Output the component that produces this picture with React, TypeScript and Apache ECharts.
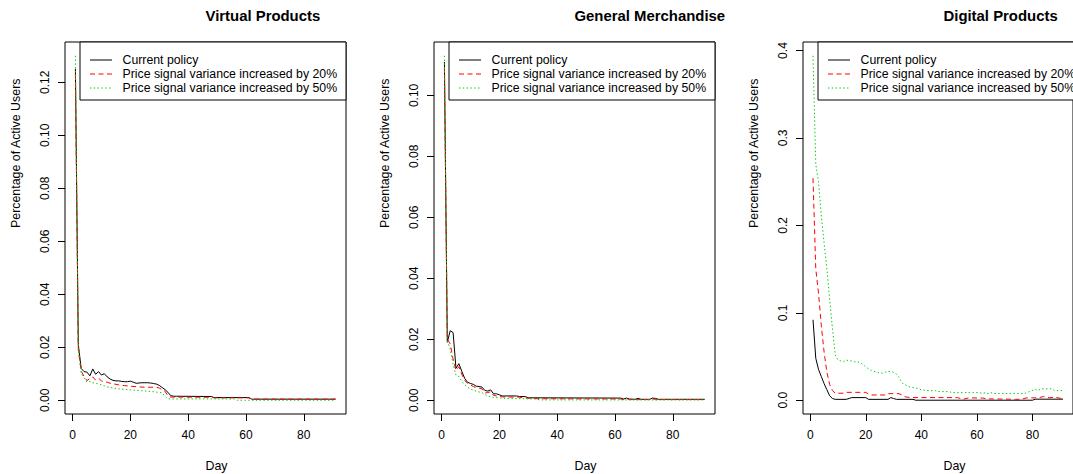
import React, { useEffect, useRef } from "react";
import * as echarts from "echarts";

// ---------- data ----------
const panelTitles = ["Virtual Products", "General Merchandise", "Digital Products"];
const legendLabels = [
  "Current policy",
  "Price signal variance increased by 20%",
  "Price signal variance increased by 50%",
];
const xTitle = "Day";
const yTitle = "Percentage of Active Users";
const xTicks = [0, 20, 40, 60, 80];
const yTicksVirtual = [0, 0.02, 0.04, 0.06, 0.08, 0.1, 0.12];
const yTicksGeneral = [0, 0.02, 0.04, 0.06, 0.08, 0.1];
const yTicksDigital = [0, 0.1, 0.2, 0.3, 0.4];

type Pt = [number, number];

const virtualCurrent: Pt[] = [
  [1, 0.125], [2, 0.021], [3, 0.012], [4, 0.0108], [5, 0.0106], [6, 0.0092], [7, 0.0118], [8, 0.0098],
  [9, 0.0108], [10, 0.0095], [11, 0.01], [12, 0.0088], [13, 0.008], [14, 0.0075], [15, 0.0073], [16, 0.0073],
  [17, 0.0071], [18, 0.007], [19, 0.007], [20, 0.0072], [21, 0.0068], [22, 0.0064], [23, 0.0065], [24, 0.0066],
  [25, 0.0066], [26, 0.0066], [27, 0.0065], [28, 0.0063], [29, 0.0061], [30, 0.0056], [31, 0.0048], [32, 0.004],
  [33, 0.003], [34, 0.0017], [35, 0.0015], [36, 0.0015], [48, 0.0014], [49, 0.001], [61, 0.001], [62, 0.0004],
  [91, 0.0004],
];
const virtual20: Pt[] = [
  [1, 0.123], [2, 0.019], [3, 0.011], [4, 0.0089], [5, 0.0074], [6, 0.0082], [7, 0.0088], [8, 0.0076],
  [9, 0.0083], [10, 0.0073], [11, 0.007], [12, 0.0068], [13, 0.0064], [14, 0.0062], [15, 0.006], [16, 0.0058],
  [17, 0.0056], [18, 0.0055], [20, 0.0053], [22, 0.0051], [25, 0.0049], [29, 0.0049], [30, 0.0046], [31, 0.004],
  [32, 0.0034], [33, 0.0016], [34, 0.0012], [48, 0.0011], [49, 0.0009], [61, 0.0009], [62, 0.0004], [91, 0.0004],
];
const virtual50: Pt[] = [
  [1, 0.13], [2, 0.02], [3, 0.01], [4, 0.0085], [5, 0.0068], [6, 0.0071], [7, 0.0066], [8, 0.0064],
  [9, 0.0061], [10, 0.0058], [11, 0.0054], [12, 0.005], [13, 0.0048], [14, 0.0046], [16, 0.0043], [18, 0.0041],
  [20, 0.0039], [24, 0.0036], [28, 0.0032], [31, 0.0028], [32, 0.0014], [33, 0.0005], [56, 0.0005], [57, 0],
  [91, 0],
];

const generalCurrent: Pt[] = [
  [1, 0.111], [2, 0.019], [3, 0.0228], [4, 0.0222], [5, 0.0105], [6, 0.012], [7, 0.0095], [8, 0.0072],
  [9, 0.0059], [10, 0.0055], [11, 0.0052], [12, 0.0046], [13, 0.0045], [14, 0.0043], [15, 0.0032], [16, 0.003],
  [17, 0.0034], [18, 0.0021], [19, 0.0021], [20, 0.0018], [21, 0.0014], [26, 0.0014], [27, 0.0012], [29, 0.0012],
  [30, 0.0008], [62, 0.0007], [63, 0.0004], [64, 0.0007], [65, 0.0004], [67, 0.0003], [68, 0.0006], [69, 0.0003],
  [72, 0.0003], [73, 0.0007], [74, 0.0006], [75, 0.0003], [91, 0.0003],
];
const general20: Pt[] = [
  [1, 0.109], [2, 0.02], [3, 0.0185], [4, 0.0135], [5, 0.0098], [6, 0.011], [7, 0.0085], [8, 0.0065],
  [9, 0.0056], [10, 0.005], [11, 0.0045], [12, 0.0041], [13, 0.004], [14, 0.0037], [15, 0.0024], [16, 0.0025],
  [17, 0.0028], [18, 0.0016], [19, 0.0014], [21, 0.0011], [27, 0.001], [28, 0.0008], [33, 0.0005], [62, 0.0004],
  [63, 0.0002], [64, 0.0005], [65, 0.0002], [72, 0.0002], [73, 0.0005], [74, 0.0002], [91, 0.0002],
];
const general50: Pt[] = [
  [1, 0.113], [2, 0.0195], [3, 0.0168], [4, 0.0118], [5, 0.0082], [6, 0.0078], [7, 0.0062], [8, 0.0051],
  [9, 0.0043], [10, 0.0037], [11, 0.0033], [12, 0.003], [13, 0.0027], [14, 0.0025], [15, 0.0019], [16, 0.0014],
  [17, 0.0011], [18, 0.0009], [20, 0.0008], [22, 0.0006], [33, 0.0004], [34, 0.0001], [91, 0.0001],
];

const digitalCurrent: Pt[] = [
  [1, 0.092], [2, 0.048], [3, 0.035], [4, 0.027], [5, 0.019], [6, 0.012], [7, 0.005], [8, 0.002],
  [9, 0.001], [13, 0.001], [14, 0.002], [15, 0.003], [20, 0.003], [21, 0.001], [28, 0.001], [29, 0.003],
  [30, 0.002], [31, 0.001], [37, 0.001], [38, 0], [80, 0], [81, 0.0012], [91, 0.0012],
];
const digital20: Pt[] = [
  [1, 0.254], [2, 0.15], [3, 0.122], [4, 0.085], [5, 0.055], [6, 0.032], [7, 0.018], [8, 0.011],
  [9, 0.008], [12, 0.008], [13, 0.009], [20, 0.009], [21, 0.007], [22, 0.006], [27, 0.006], [28, 0.0075],
  [32, 0.0075], [33, 0.006], [34, 0.004], [36, 0.003], [53, 0.003], [55, 0.001], [57, 0.0027], [62, 0.0025],
  [64, 0.0015], [72, 0.0012], [74, 0.001], [76, 0.0012], [78, 0.0027], [82, 0.0027], [84, 0.0042], [86, 0.0028],
  [88, 0.0035], [90, 0.0022], [91, 0.0022],
];
const digital50: Pt[] = [
  [1, 0.394], [2, 0.27], [3, 0.25], [4, 0.21], [5, 0.18], [6, 0.15], [7, 0.115], [8, 0.082],
  [9, 0.052], [10, 0.046], [11, 0.045], [12, 0.044], [13, 0.046], [14, 0.045], [15, 0.045], [16, 0.044],
  [17, 0.044], [18, 0.043], [19, 0.041], [20, 0.038], [21, 0.036], [22, 0.034], [24, 0.032], [25, 0.031],
  [26, 0.031], [27, 0.032], [28, 0.033], [29, 0.033], [30, 0.032], [31, 0.03], [32, 0.026], [33, 0.02],
  [34, 0.018], [36, 0.015], [38, 0.014], [40, 0.012], [42, 0.011], [45, 0.011], [46, 0.0099], [50, 0.0099],
  [51, 0.0087], [61, 0.0087], [62, 0.0076], [63, 0.0087], [64, 0.0076], [65, 0.0087], [66, 0.0076], [77, 0.0076],
  [78, 0.0087], [79, 0.0099], [81, 0.0126], [82, 0.011], [83, 0.013], [87, 0.013], [88, 0.011], [91, 0.011],
];

// ---------- layout / style ----------
const FONT = '"Liberation Sans", Arial, sans-serif';
const PLOT_LEFT = [65, 434, 803];
const PLOT_TOP = 42;
const PLOT_W = 281;
const PLOT_H = 372;
const X_MIN = -2.6;
const X_MAX = 94.6;
const Y_RANGE: [number, number][] = [
  [-0.0052, 0.1352],
  [-0.00452, 0.11752],
  [-0.01576, 0.40976],
];
const LINE_COLORS = ["#000000", "#FF0000", "#00CC00"];
const LINE_DASH: any[] = ["solid", [5, 3.5], [1.4, 2.4]];

const panels = [
  { series: [virtualCurrent, virtual20, virtual50], yTicks: yTicksVirtual, digits: 2 },
  { series: [generalCurrent, general20, general50], yTicks: yTicksGeneral, digits: 2 },
  { series: [digitalCurrent, digital20, digital50], yTicks: yTicksDigital, digits: 1 },
];

function buildOption() {
  const grid: any[] = [];
  const xAxis: any[] = [];
  const yAxis: any[] = [];
  const series: any[] = [];
  const graphic: any[] = [];

  panels.forEach((p, i) => {
    const left = PLOT_LEFT[i];
    grid.push({
      left,
      top: PLOT_TOP,
      width: PLOT_W,
      height: PLOT_H,
      show: true,
      borderColor: "#000",
      borderWidth: 1,
      backgroundColor: "transparent",
      containLabel: false,
    });
    xAxis.push({
      gridIndex: i,
      type: "value",
      min: X_MIN,
      max: X_MAX,
      axisLine: { show: false, onZero: false },
      splitLine: { show: false },
      axisTick: { show: true, length: 7, customValues: xTicks, lineStyle: { color: "#000", width: 1 } },
      axisLabel: { customValues: xTicks, margin: 15, fontSize: 12, color: "#000", fontFamily: FONT },
    });
    yAxis.push({
      gridIndex: i,
      type: "value",
      min: Y_RANGE[i][0],
      max: Y_RANGE[i][1],
      axisLine: { show: false, onZero: false },
      splitLine: { show: false },
      axisTick: { show: true, length: 7, customValues: p.yTicks, lineStyle: { color: "#000", width: 1 } },
      axisLabel: {
        customValues: p.yTicks,
        rotate: 90,
        margin: 14,
        fontSize: 12,
        color: "#000",
        fontFamily: FONT,
        formatter: (v: number) => v.toFixed(p.digits),
      },
    });
    p.series.forEach((data, k) => {
      series.push({
        type: "line",
        name: legendLabels[k],
        xAxisIndex: i,
        yAxisIndex: i,
        data,
        showSymbol: false,
        symbol: "none",
        z: 2 + k,
        lineStyle: { color: LINE_COLORS[k], width: 1, type: LINE_DASH[k] },
        itemStyle: { color: LINE_COLORS[k] },
        emphasis: { disabled: true },
      });
    });

    const cx = left + PLOT_W / 2;
    // title
    graphic.push({
      type: "text",
      x: cx,
      y: 16,
      style: {
        text: panelTitles[i],
        font: `bold 14.9px ${FONT}`,
        fill: "#000",
        textAlign: "left",
        textVerticalAlign: "middle",
      },
    });
    // x title
    graphic.push({
      type: "text",
      x: cx,
      y: 466,
      style: { text: xTitle, font: `12.4px ${FONT}`, fill: "#000", textAlign: "left", textVerticalAlign: "middle" },
    });
    // y title
    graphic.push({
      type: "text",
      x: left - 49,
      y: PLOT_TOP + PLOT_H / 2,
      rotation: Math.PI / 2,
      style: { text: yTitle, font: `12.4px ${FONT}`, fill: "#000", textAlign: "left", textVerticalAlign: "middle" },
    });
    // legend box
    const lx = left + 15;
    graphic.push({
      type: "rect",
      z: 100,
      shape: { x: lx, y: PLOT_TOP, width: left + PLOT_W - lx, height: 58 },
      style: { fill: "#fff", stroke: "#000", lineWidth: 1 },
    });
    const rowsY = [60, 74, 88];
    legendLabels.forEach((lab, k) => {
      graphic.push({
        type: "line",
        z: 101,
        shape: { x1: left + 25, y1: rowsY[k], x2: left + 47, y2: rowsY[k] },
        style: { stroke: LINE_COLORS[k], lineWidth: 1, lineDash: k === 0 ? null : LINE_DASH[k] },
      });
      graphic.push({
        type: "text",
        z: 101,
        x: left + 57.5,
        y: rowsY[k],
        style: { text: lab, font: `12.3px ${FONT}`, fill: "#000", textAlign: "left", textVerticalAlign: "middle" },
      });
    });
  });

  return {
    animation: false,
    backgroundColor: "#fff",
    textStyle: { fontFamily: FONT },
    grid,
    xAxis,
    yAxis,
    series,
    graphic,
  };
}

export default function App() {
  const ref = useRef<HTMLDivElement>(null);
  useEffect(() => {
    if (!ref.current) return;
    const chart = echarts.init(ref.current, undefined, { renderer: "svg" });
    chart.setOption(buildOption() as any);
    return () => chart.dispose();
  }, []);
  return (
    <div
      ref={ref}
      style={{ position: "fixed", left: 0, top: 0, width: 1073, height: 474, background: "#fff" }}
    />
  );
}
